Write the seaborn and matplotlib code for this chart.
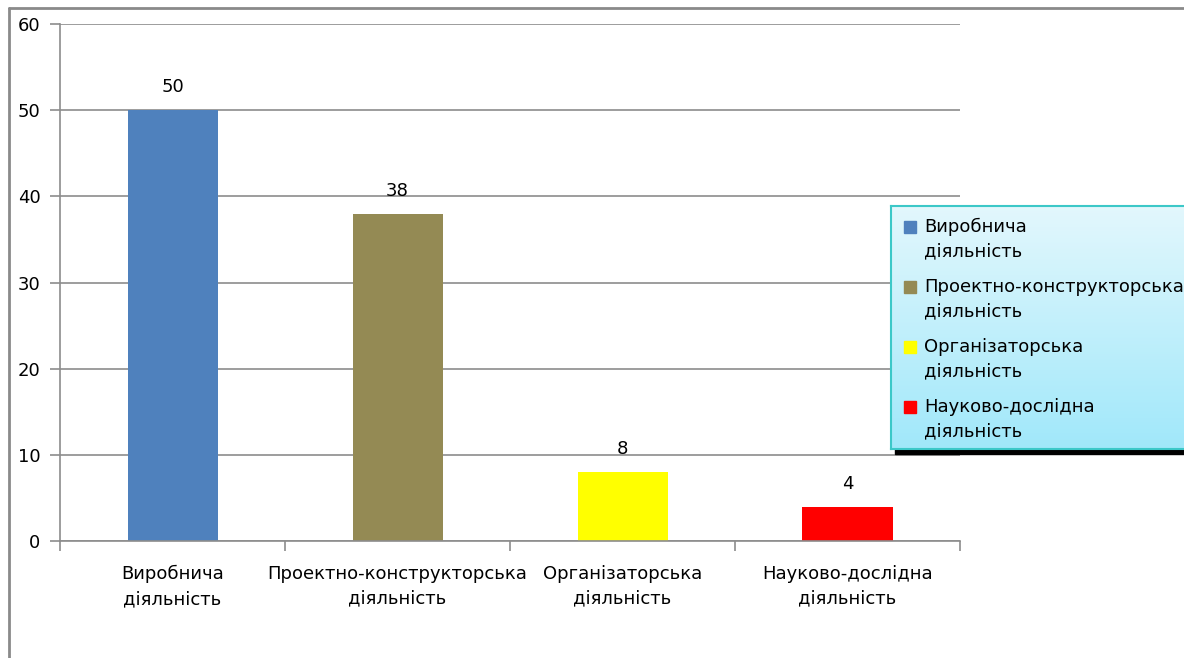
import numpy as np
import pandas as pd
import matplotlib
matplotlib.use("Agg")
import matplotlib.pyplot as plt
import seaborn as sns
from matplotlib.patches import Rectangle
from matplotlib.lines import Line2D

# data
categories = [
    "Виробнича\nдіяльність",
    "Проектно-конструкторська\nдіяльність",
    "Організаторська\nдіяльність",
    "Науково-дослідна\nдіяльність",
]
values = [50, 38, 8, 4]
colors = ["#4F81BD", "#948A54", "#FFFF00", "#FF0000"]
y_ticks = [0, 10, 20, 30, 40, 50, 60]

sns.set_style("white")
plt.rcParams["font.family"] = ["DejaVu Sans"]
plt.rcParams["text.color"] = "black"
plt.rcParams["xtick.color"] = "black"
plt.rcParams["ytick.color"] = "black"

df = pd.DataFrame({"cat": categories, "val": values})

W, H = 1184, 658
fs = 13
fig = plt.figure(figsize=(W / 100, H / 100), dpi=100)
ax = fig.add_axes([60 / W, 1 - 541 / H, 900 / W, 517 / H])

sns.barplot(data=df, x="cat", y="val", hue="cat", palette=colors,
            width=0.4, legend=False, ax=ax, saturation=1, linewidth=0)

grid_c = "#8C8C8C"
ax.set_xlim(-0.5, 3.5)
ax.set_ylim(0, 60)
ax.set_yticks(y_ticks)
ax.yaxis.grid(True, color=grid_c, linewidth=1.2)
ax.set_axisbelow(True)
for s in ["top", "right"]:
    ax.spines[s].set_visible(False)
for s in ["left", "bottom"]:
    ax.spines[s].set_color(grid_c)
    ax.spines[s].set_linewidth(1.2)

ax.set_xlabel("")
ax.set_ylabel("")
ax.tick_params(axis="y", length=7, color=grid_c, width=1.2, labelsize=fs,
               pad=7, direction="out", left=True)
ax.set_xticks(np.arange(-0.5, 4.0, 1.0), minor=True)
ax.tick_params(axis="x", which="minor", length=7, color=grid_c, width=1.2,
               direction="out", bottom=True)
ax.tick_params(axis="x", which="major", length=0, labelsize=fs, pad=17)
for lbl in ax.get_xticklabels():
    lbl.set_linespacing(1.5)

for c in ax.containers:
    ax.bar_label(c, fmt="%g", padding=10, fontsize=fs)

# figure border (left and top)
fig.add_artist(Line2D([9 / W, 9 / W], [0, 1 - 8 / H], color="#8A8A8A", lw=2))
fig.add_artist(Line2D([9 / W, 1], [1 - 8 / H, 1 - 8 / H], color="#8A8A8A", lw=2))

# legend box with gradient and shadow
fig.add_artist(Rectangle((895 / W, 1 - 454 / H), (W - 895) / W, 6 / H,
                         transform=fig.transFigure, color="black", zorder=2))
lx0, ly0, lw_, lh_ = 891, 206, W - 891 + 4, 243
lax = fig.add_axes([lx0 / W, 1 - (ly0 + lh_) / H, lw_ / W, lh_ / H], zorder=3)
grad = np.linspace(0, 1, 256).reshape(-1, 1)
top = np.array([0.89, 0.97, 0.99])
bot = np.array([0.63, 0.91, 0.98])
img = top + (bot - top) * grad[:, :, None]
lax.imshow(img, aspect="auto", extent=[0, lw_, lh_, 0])
lax.set_xlim(0, lw_)
lax.set_ylim(lh_, 0)
lax.set_xticks([])
lax.set_yticks([])
for s in lax.spines.values():
    s.set_color("#3CC8C8")
    s.set_linewidth(1.5)

# legend entries (pixel coords inside the legend box)
for i, (lab, col) in enumerate(zip(categories, colors)):
    y1 = 21 + 60 * i
    lax.add_patch(Rectangle((13, y1 - 6), 12, 12, color=col))
    lax.text(33, y1 - 9, lab, fontsize=fs, va="top", ha="left",
             linespacing=1.45)

fig.savefig("out.png", dpi=100, facecolor="white")
